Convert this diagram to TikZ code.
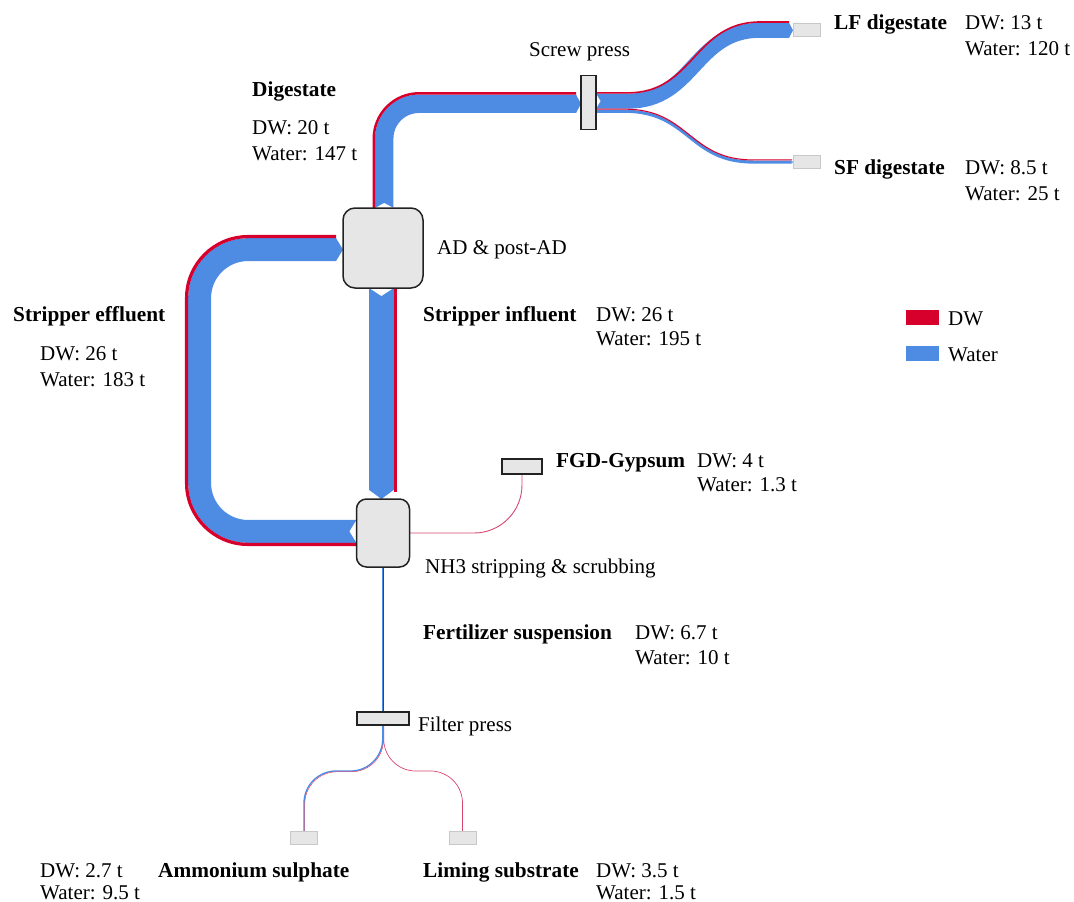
\documentclass[tikz,border=0pt]{standalone}
\usepackage{fontspec}
\setmainfont{Liberation Serif}
\usetikzlibrary{calc}
\pgfdeclarelayer{bg}
\pgfsetlayers{bg,main}
\definecolor{dwred}{RGB}{215,0,45}
\definecolor{wblue}{RGB}{78,139,226}
\definecolor{boxgray}{RGB}{230,230,230}
\definecolor{edgegray}{RGB}{200,200,200}
\definecolor{pinkmix}{RGB}{214,70,110}
\definecolor{boxline}{RGB}{34,34,34}
\begin{document}
\begin{tikzpicture}[x=1pt,y=-1pt,
  lbl/.style={anchor=base west, inner sep=0pt, font=\fontsize{21}{25}\selectfont},
  blbl/.style={anchor=base west, inner sep=0pt, font=\fontsize{21.3}{25}\selectfont\bfseries},
  proc/.style={draw=boxline, fill=boxgray, line width=1.5pt, inner sep=0pt, outer sep=0pt},
  bar/.style={draw=boxline, fill=boxgray, line width=1.5pt, inner sep=0pt, outer sep=0pt},
  sink/.style={draw=edgegray, fill=boxgray, line width=0.8pt, inner sep=0pt, outer sep=0pt, minimum width=27pt, minimum height=13pt},
  dwflow/.style={draw=dwred, line cap=butt},
  wflow/.style={draw=wblue, line cap=butt},
  legbox/.style={inner sep=0pt, minimum width=33pt, minimum height=15pt},
]
\useasboundingbox (0,0) rectangle (1074,902);

% ---------- nodes ----------
\node[proc, rounded corners=12pt, minimum width=80pt, minimum height=80pt] (ad) at (383,248) {};
\node[proc, rounded corners=10pt, minimum width=53pt, minimum height=68pt] (nh3) at (383,533) {};
\node[bar, minimum width=15pt, minimum height=54pt] (screw) at (588.5,102.5) {};
\node[bar, minimum width=52pt, minimum height=13pt] (filter) at (383,718.5) {};
\node[bar, minimum width=40pt, minimum height=15pt] (fgd) at (522,466.5) {};
\node[sink] (lf) at (806.5,29.5) {};
\node[sink] (sf) at (806.5,161.5) {};
\node[sink] (amm) at (304,837.5) {};
\node[sink] (lim) at (462.5,837.5) {};
\node[legbox, fill=dwred] (legdw) at (922.5,317.5) {};
\node[legbox, fill=wblue] (legw) at (922.5,353.5) {};

% ---------- flows ----------
\begin{pgfonlayer}{bg}
% Digestate: AD -> screw press
\draw[wflow, line width=18.4pt, rounded corners=34.75pt] ([xshift=1.25pt]ad.north) |- ([xshift=-5pt,yshift=-1.25pt]screw.west);
\draw[dwflow, line width=2.5pt, rounded corners=45.2pt] ([xshift=-9.2pt]ad.north) |- ([xshift=-5pt,yshift=9.2pt]screw.west);
\fill[wblue] ([xshift=-5pt,yshift=7.95pt]screw.west) -- ([yshift=-1.25pt]screw.west) -- ([xshift=-5pt,yshift=-10.45pt]screw.west) -- cycle;
\fill[white] ([xshift=-7.95pt]ad.north) -- ([xshift=1.25pt,yshift=5pt]ad.north) -- ([xshift=10.45pt]ad.north) -- cycle;

% Stripper influent: AD -> NH3
\draw[wflow, line width=24.4pt] ([xshift=-1.6pt]ad.south) -- ([xshift=-1.6pt,yshift=9pt]nh3.north);
\draw[dwflow, line width=3.25pt] ([xshift=12.2pt]ad.south) -- ([xshift=12.2pt,yshift=7pt]nh3.north);
\fill[wblue] ([xshift=-13.8pt,yshift=9pt]nh3.north) -- ([xshift=-1.6pt]nh3.north) -- ([xshift=10.6pt,yshift=9pt]nh3.north) -- cycle;
\fill[white] ([xshift=-13.8pt]ad.south) -- ([xshift=-1.6pt,yshift=-8pt]ad.south) -- ([xshift=10.6pt]ad.south) -- cycle;

% Stripper effluent: NH3 -> AD (loop)
\draw[wflow, line width=22.9pt, rounded corners=48.4pt] ([yshift=1.6pt]nh3.west) -| (199.6,400) |- ([xshift=-7pt,yshift=-1.6pt]ad.west);
\draw[dwflow, line width=3.25pt, rounded corners=61.4pt] ([yshift=-11.4pt]nh3.west) -| (186.6,400) |- ([xshift=-7pt,yshift=11.4pt]ad.west);
\fill[wblue] ([xshift=-7pt,yshift=9.85pt]ad.west) -- ([yshift=-1.6pt]ad.west) -- ([xshift=-7pt,yshift=-13.05pt]ad.west) -- cycle;
\fill[white] ([yshift=13.05pt]nh3.west) -- ([xshift=-7pt,yshift=1.6pt]nh3.west) -- ([yshift=-9.85pt]nh3.west) -- cycle;

% LF digestate: screw press -> LF
\draw[wflow, line width=15pt] ([yshift=1.35pt]screw.east) -- (628,101.15) .. controls (694,101.15) and (694,30.3) .. (760,30.3) -- ([xshift=-4pt,yshift=-0.8pt]lf.west);
\draw[dwflow, line width=1.6pt] ([yshift=9.65pt]screw.east) -- (628,92.85) .. controls (694,92.85) and (694,22) .. (760,22) -- ([xshift=-4pt,yshift=7.5pt]lf.west);
\fill[wblue] ([xshift=-4pt,yshift=6.7pt]lf.west) -- ([yshift=-0.8pt]lf.west) -- ([xshift=-4pt,yshift=-8.3pt]lf.west) -- cycle;
\fill[white] ([yshift=8.85pt]screw.east) -- ([xshift=4.5pt,yshift=1.35pt]screw.east) -- ([yshift=-6.15pt]screw.east) -- cycle;

% SF digestate: screw press -> SF
\draw[wflow, line width=3.1pt] ([yshift=-8.8pt]screw.east) -- (625,111.3) .. controls (689,111.3) and (689,162.05) .. (753,162.05) -- ([xshift=-1.5pt,yshift=-0.55pt]sf.west);
\draw[dwflow, line width=1.06pt] ([yshift=-6.68pt]screw.east) -- (625,109.18) .. controls (689,109.18) and (689,159.93) .. (753,159.93) -- ([xshift=-1pt,yshift=1.57pt]sf.west);
\fill[wblue] ([xshift=-1.5pt,yshift=1pt]sf.west) -- ([yshift=-0.55pt]sf.west) -- ([xshift=-1.5pt,yshift=-2.1pt]sf.west) -- cycle;

% FGD-Gypsum -> NH3
\draw[pinkmix, line width=0.9pt, rounded corners=48pt] (fgd.south) |- (nh3.east);

% Fertilizer suspension: NH3 -> filter press
\draw[wflow, line width=1.25pt] ([xshift=-0.5pt]nh3.south) -- ([xshift=-0.5pt]filter.north);
\draw[dwflow, line width=0.85pt] ([xshift=0.55pt]nh3.south) -- ([xshift=0.55pt]filter.north);

% Ammonium sulphate
\draw[wflow, line width=1.3pt, rounded corners=32pt] ([xshift=-0.3pt]filter.south) -- (382.7,771) -| (amm.north);
\draw[dwflow, line width=0.3pt, rounded corners=32pt] ([xshift=0.5pt]filter.south) -- (383.5,771.8) -| ([xshift=0.8pt]amm.north);
% Liming substrate
\draw[pinkmix, line width=0.7pt, rounded corners=32pt] ([xshift=0.7pt]filter.south) -- (383.7,771) -| (lim.north);
\end{pgfonlayer}

% ---------- labels ----------
\node[lbl] (t-screw) at (529,56) {Screw press};
\node[blbl] (t-lf) at (834,29) {LF digestate};
\node[lbl] (t-lfdw) at (965,29) {DW: 13 t};
\node[lbl] (t-lfw) at (965,55) {Water: 120 t};
\node[blbl] (t-sf) at (834,174) {SF digestate};
\node[lbl] (t-sfdw) at (965,174) {DW: 8.5 t};
\node[lbl] (t-sfw) at (965,200) {Water: 25 t};
\node[blbl] (t-dig) at (252,96) {Digestate};
\node[lbl] (t-digdw) at (252,134) {DW: 20 t};
\node[lbl] (t-digw) at (252,160) {Water: 147 t};
\node[lbl] (t-ad) at (437,254) {AD \& post-AD};
\node[blbl] (t-eff) at (13,321) {Stripper effluent};
\node[lbl] (t-effdw) at (40,360) {DW: 26 t};
\node[lbl] (t-effw) at (40,386) {Water: 183 t};
\node[blbl] (t-inf) at (423,321) {Stripper influent};
\node[lbl] (t-infdw) at (596,321) {DW: 26 t};
\node[lbl] (t-infw) at (596,345) {Water: 195 t};
\node[lbl] (t-legdw) at (948,325) {DW};
\node[lbl] (t-legw) at (948,361) {Water};
\node[blbl] (t-fgd) at (556,467) {FGD-Gypsum};
\node[lbl] (t-fgddw) at (697,467) {DW: 4 t};
\node[lbl] (t-fgdw) at (697,491) {Water: 1.3 t};
\node[lbl] (t-nh3) at (425,573) {NH3 stripping \& scrubbing};
\node[blbl] (t-fert) at (423,639) {Fertilizer suspension};
\node[lbl] (t-fertdw) at (635,639) {DW: 6.7 t};
\node[lbl] (t-fertw) at (635,664) {Water: 10 t};
\node[lbl] (t-filter) at (418,731) {Filter press};
\node[lbl] (t-ammdw) at (40,877) {DW: 2.7 t};
\node[lbl] (t-ammw) at (40,899) {Water: 9.5 t};
\node[blbl] (t-amm) at (158,877) {Ammonium sulphate};
\node[blbl] (t-lim) at (423,877) {Liming substrate};
\node[lbl] (t-limdw) at (596,877) {DW: 3.5 t};
\node[lbl] (t-limw) at (596,899) {Water: 1.5 t};
\end{tikzpicture}
\end{document}
